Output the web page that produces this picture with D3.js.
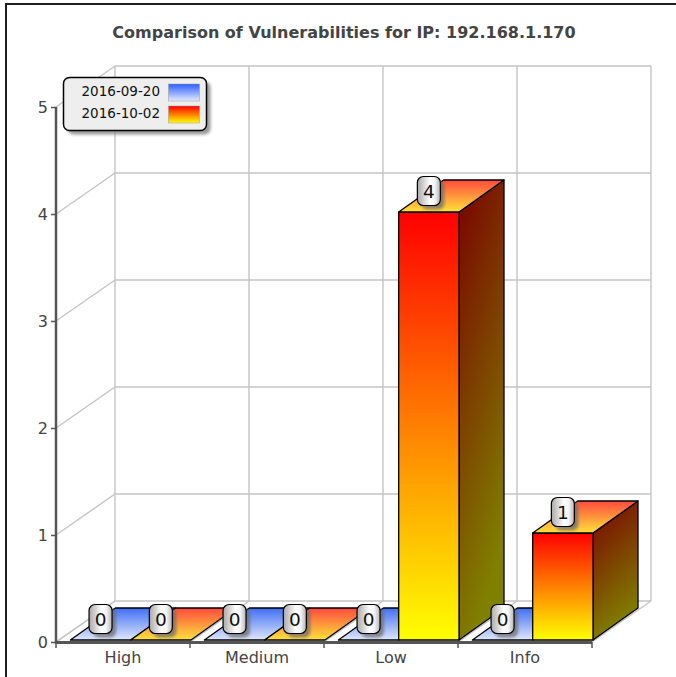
<!DOCTYPE html>
<html>
<head>
<meta charset="utf-8">
<script src="https://cdn.jsdelivr.net/npm/d3@7/dist/d3.min.js"></script>
<style>
  html, body { margin: 0; padding: 0; background: #fff; }
  svg { display: block; font-family: "DejaVu Sans", sans-serif; }
</style>
</head>
<body>
<svg id="chart" width="676" height="677"></svg>
<script>
// Vulnerability counts per severity, one series per scan date
const categories = ["High", "Medium", "Low", "Info"];
const seriesNames = ["2016-09-20", "2016-10-02"];
const scan20160920 = [0, 0, 0, 0];
const scan20161002 = [0, 0, 4, 1];
const yTicks = [0, 1, 2, 3, 4, 5];
const titleText = "Comparison of Vulnerabilities for IP: 192.168.1.170";

const seriesValues = [scan20160920, scan20161002];

const svg = d3.select("#chart");
const defs = svg.append("defs");

// Layout of the 3D box
const front = { left: 56, right: 592, bottom: 642, top: 107 };
const depth = { dx: 59, dy: -41 };      // depth of the walls
const barDepth = { dx: 45, dy: -32 };   // depth of each bar
const barShift = { dx: 1, dy: -2 };     // bars sit slightly behind the front plane

const x = d3.scaleBand().domain(categories).range([front.left, front.right]).padding(0);
const bw = x.bandwidth();
const xSeries = d3.scaleBand().domain(seriesNames).range([0.1 * bw, bw]).padding(0);
const y = d3.scaleLinear().domain([0, 5]).range([front.bottom, front.top]);

// Gradients
function linGrad(id, stops, x1 = 0, y1 = 0, x2 = 0, y2 = 1) {
  const g = defs.append("linearGradient").attr("id", id)
    .attr("x1", x1).attr("y1", y1).attr("x2", x2).attr("y2", y2);
  stops.forEach(([o, c]) => g.append("stop").attr("offset", o).attr("stop-color", c));
}
linGrad("blueFront", [[0, "#2e5eff"], [1, "#e4ebff"]]);
linGrad("blueSide", [[0, "#17307f"], [1, "#72757f"]]);
linGrad("blueTop", [[0, "#3f6ff5"], [1, "#dfe7fb"]]);
linGrad("redFront", [[0, "#ff0000"], [1, "#ffff00"]]);
linGrad("redSide", [[0, "#7a0000"], [1, "#808000"]], 0, 0, 0.3, 1);
linGrad("redTop", [[0, "#ff4a3e"], [1, "#ffe23a"]]);
linGrad("labelFill", [[0, "#a8a8a8"], [0.55, "#ffffff"], [0.75, "#f4f4f4"], [1, "#b4b4b4"]], 0, 0, 1, 0);

const shadow = defs.append("filter").attr("id", "shadow")
  .attr("x", "-30%").attr("y", "-30%").attr("width", "160%").attr("height", "160%");
shadow.append("feGaussianBlur").attr("stdDeviation", 1.5);

const seriesStyle = [
  { front: "url(#blueFront)", side: "url(#blueSide)", top: "url(#blueTop)" },
  { front: "url(#redFront)", side: "url(#redSide)", top: "url(#redTop)" }
];

// Outer frame
svg.append("rect").attr("x", 6).attr("y", 4).attr("width", 720).attr("height", 720)
  .attr("fill", "#fff").attr("stroke", "#1e1e1e").attr("stroke-width", 2);

// Title
svg.append("text").attr("x", 344).attr("y", 38).attr("text-anchor", "middle")
  .attr("font-size", 16).attr("font-weight", "bold").attr("fill", "#444")
  .text(titleText);

// Grid: back wall, left wall and floor
const grid = svg.append("g").attr("stroke", "#c4c4c4").attr("stroke-width", 1.4).attr("fill", "none");
const bx = (v) => v + depth.dx, by = (v) => v + depth.dy;
yTicks.forEach(t => {
  grid.append("line").attr("x1", front.left).attr("y1", y(t)).attr("x2", bx(front.left)).attr("y2", by(y(t)));
  grid.append("line").attr("x1", bx(front.left)).attr("y1", by(y(t))).attr("x2", bx(front.right)).attr("y2", by(y(t)));
});
const boundaries = categories.map(c => x(c)).concat([front.right]);
boundaries.forEach(b => {
  grid.append("line").attr("x1", bx(b)).attr("y1", by(y(0))).attr("x2", bx(b)).attr("y2", by(y(5)));
  grid.append("line").attr("x1", b).attr("y1", y(0)).attr("x2", bx(b)).attr("y2", by(y(0)));
});

// Bars
const barsG = svg.append("g").attr("stroke", "#000").attr("stroke-width", 1.3).attr("stroke-linejoin", "round");
const labelSpots = [];
categories.forEach((cat, ci) => {
  seriesNames.forEach((s, si) => {
    const v = seriesValues[si][ci];
    const x0 = x(cat) + xSeries(s) + barShift.dx;
    const x1 = x0 + xSeries.bandwidth();
    const yb = y(0) + barShift.dy;
    const yt = y(v) + barShift.dy;
    const st = seriesStyle[si];
    const g = barsG.append("g");
    if (v > 0) {
      g.append("path").attr("fill", st.side)
        .attr("d", `M${x1},${yb}L${x1 + barDepth.dx},${yb + barDepth.dy}L${x1 + barDepth.dx},${yt + barDepth.dy}L${x1},${yt}Z`);
      g.append("rect").attr("x", x0).attr("y", yt).attr("width", x1 - x0).attr("height", yb - yt)
        .attr("fill", st.front);
    }
    g.append("path").attr("fill", st.top)
      .attr("d", `M${x0},${yt}L${x1},${yt}L${x1 + barDepth.dx},${yt + barDepth.dy}L${x0 + barDepth.dx},${yt + barDepth.dy}Z`);
    labelSpots.push({ cx: (x0 + x1) / 2, cy: yt - 21, v });
  });
});

// Axes
const axisColor = "#555";
const yAxis = svg.append("g").attr("transform", `translate(${front.left},0)`)
  .call(d3.axisLeft(y).tickValues(yTicks).tickSize(5).tickPadding(3).tickFormat(d3.format("d")));
yAxis.select(".domain").remove();
yAxis.selectAll(".tick line").attr("stroke", axisColor).attr("stroke-width", 1.5);
yAxis.selectAll(".tick text").attr("font-size", 16).attr("fill", "#444").attr("font-family", "DejaVu Sans, sans-serif");
svg.append("line").attr("x1", front.left).attr("x2", front.left)
  .attr("y1", y(5)).attr("y2", y(0) + 1.5).attr("stroke", axisColor).attr("stroke-width", 2.5);

const xAxis = svg.append("g").attr("transform", `translate(0,${front.bottom})`)
  .call(d3.axisBottom(x).tickSize(0).tickPadding(10));
xAxis.select(".domain").remove();
xAxis.selectAll(".tick text").attr("font-size", 16).attr("fill", "#444").attr("font-family", "DejaVu Sans, sans-serif");
svg.append("line").attr("x1", front.left).attr("x2", front.right)
  .attr("y1", front.bottom + 0.5).attr("y2", front.bottom + 0.5).attr("stroke", axisColor).attr("stroke-width", 3);
boundaries.forEach(b => {
  svg.append("line").attr("x1", b).attr("x2", b).attr("y1", front.bottom).attr("y2", front.bottom + 6)
    .attr("stroke", axisColor).attr("stroke-width", 1.5);
});

// Value labels
const labelW = 23, labelH = 29;
const labels = svg.append("g");
labelSpots.forEach(p => {
  labels.append("rect").attr("x", p.cx - labelW / 2 + 4).attr("y", p.cy - labelH / 2 + 4)
    .attr("width", labelW).attr("height", labelH).attr("rx", 6)
    .attr("fill", "#6a6a6a").attr("opacity", 0.75).attr("filter", "url(#shadow)");
  labels.append("rect").attr("x", p.cx - labelW / 2).attr("y", p.cy - labelH / 2)
    .attr("width", labelW).attr("height", labelH).attr("rx", 6)
    .attr("fill", "url(#labelFill)").attr("stroke", "#000").attr("stroke-width", 1.2);
  labels.append("text").attr("x", p.cx).attr("y", p.cy + 6.8).attr("text-anchor", "middle")
    .attr("font-size", 18.5).attr("fill", "#111").text(p.v);
});

// Legend
const legend = svg.append("g");
const lg = { x: 63.5, y: 77.5, w: 143, h: 53 };
legend.append("rect").attr("x", lg.x + 4).attr("y", lg.y + 4).attr("width", lg.w).attr("height", lg.h)
  .attr("rx", 6).attr("fill", "#777").attr("opacity", 0.75).attr("filter", "url(#shadow)");
legend.append("rect").attr("x", lg.x).attr("y", lg.y).attr("width", lg.w).attr("height", lg.h)
  .attr("rx", 6).attr("fill", "#eeeeee").attr("stroke", "#000").attr("stroke-width", 1.5);
seriesNames.forEach((s, i) => {
  const rowY = 96 + i * 22;
  legend.append("text").attr("x", 160).attr("y", rowY).attr("text-anchor", "end")
    .attr("font-size", 13.5).attr("fill", "#111").text(s);
  legend.append("rect").attr("x", 168.5).attr("y", rowY - 12).attr("width", 31).attr("height", 17)
    .attr("fill", seriesStyle[i].front).attr("stroke", "#999").attr("stroke-width", 0.5);
});
</script>
</body>
</html>
